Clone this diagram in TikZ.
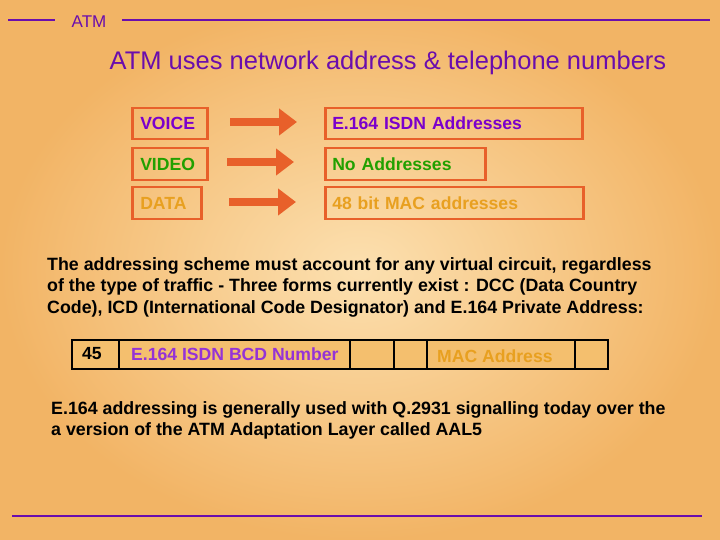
\documentclass[tikz,border=0pt]{standalone}
\usepackage{fontspec}
\setmainfont{Liberation Sans}
\usetikzlibrary{arrows.meta}
\definecolor{bgin}{HTML}{FCE0B0}
\definecolor{bgout}{HTML}{F2B465}
\definecolor{pur}{HTML}{6A0DAD}
\definecolor{vio}{HTML}{7A00CC}
\definecolor{grn}{HTML}{22A000}
\definecolor{gold}{HTML}{E8A020}
\definecolor{orl}{HTML}{E8602A}
\definecolor{cell}{HTML}{F4BF6E}
\begin{document}
\begin{tikzpicture}[x=1pt,y=-1pt,
  lbox/.style={draw=orl,line width=2.5pt,anchor=north west,inner sep=0pt,font=\bfseries\fontsize{17.6}{19}\selectfont,text height=12.5pt,text depth=0pt},
  arr/.style={orl,line width=8pt,-{Triangle[length=18pt,width=26pt]}},
  para/.style={anchor=north west,align=left,font=\bfseries\fontsize{17.8}{21.5}\selectfont,inner sep=0pt},
  rule/.style={pur,line width=2pt}]
\useasboundingbox (0,0) rectangle (720,540);
\shade[inner color=bgin,outer color=bgout] (0,0) rectangle (720,540);
\draw[rule] (8,20) -- (55,20);
\draw[rule] (122,20) -- (710,20);
\draw[rule] (12,516) -- (702,516);
\node[pur,font=\fontsize{17}{18}\selectfont] (hdr) at (89,22) {ATM};
\node[pur,font=\fontsize{25.5}{28}\selectfont] (title) at (388,63) {ATM uses network address \& telephone numbers};
% rows
\node[lbox,text=vio,minimum width=75pt,minimum height=31pt,text width=73pt] (voice) at (131,107) {\hspace{7pt}VOICE};
\node[lbox,text=vio,minimum width=257pt,minimum height=31pt,text width=255pt] (e164) at (324,107) {\hspace{6pt}E.164 ISDN Addresses};
\node[lbox,text=grn,minimum width=75pt,minimum height=32pt,text width=73pt] (video) at (131,147) {\hspace{7pt}VIDEO};
\node[lbox,text=grn,minimum width=160pt,minimum height=32pt,text width=158pt] (noad) at (324,147) {\hspace{6pt}No Addresses};
\node[lbox,text=gold,minimum width=69pt,minimum height=32pt,text width=67pt] (data) at (131,186) {\hspace{7pt}DATA};
\node[lbox,text=gold,minimum width=258pt,minimum height=32pt,text width=256pt] (mac) at (324,186) {\hspace{6pt}48 bit MAC addresses};
\coordinate (a1s) at (230,122); \coordinate (a1e) at (297,122);
\coordinate (a2s) at (227,162); \coordinate (a2e) at (294,162);
\coordinate (a3s) at (229,202); \coordinate (a3e) at (296,202);
\draw[arr] (a1s) -- (a1e);
\draw[arr] (a2s) -- (a2e);
\draw[arr] (a3s) -- (a3e);
\node[para] (p1) at (47,257) {The addressing scheme must account for any virtual circuit, regardless\\of the type of traffic - Three forms currently exist : DCC (Data Country\\Code), ICD (International Code Designator) and E.164 Private Address:};
% table
\foreach \a/\b/\n in {72/119/c1,119/350/c2,350/394/c3,394/427/c4,427/575/c5,575/608/c6}{
  \draw[fill=cell,line width=2pt] (\a,340) rectangle (\b,369);
}
\node[font=\bfseries\fontsize{17.6}{18}\selectfont] (t45) at (92,354) {45};
\node[font=\bfseries\fontsize{17.6}{18}\selectfont,text=vio!80!white,anchor=west,inner sep=0pt] (tisdn) at (131,354) {E.164 ISDN BCD Number};
\node[font=\bfseries\fontsize{17.6}{18}\selectfont,text=gold,anchor=west,inner sep=0pt] (tmac) at (437,356) {MAC Address};
\node[para] (p2) at (51,401) {E.164 addressing is generally used with Q.2931 signalling today over the\\a version of the ATM Adaptation Layer called AAL5};
\end{tikzpicture}
\end{document}
